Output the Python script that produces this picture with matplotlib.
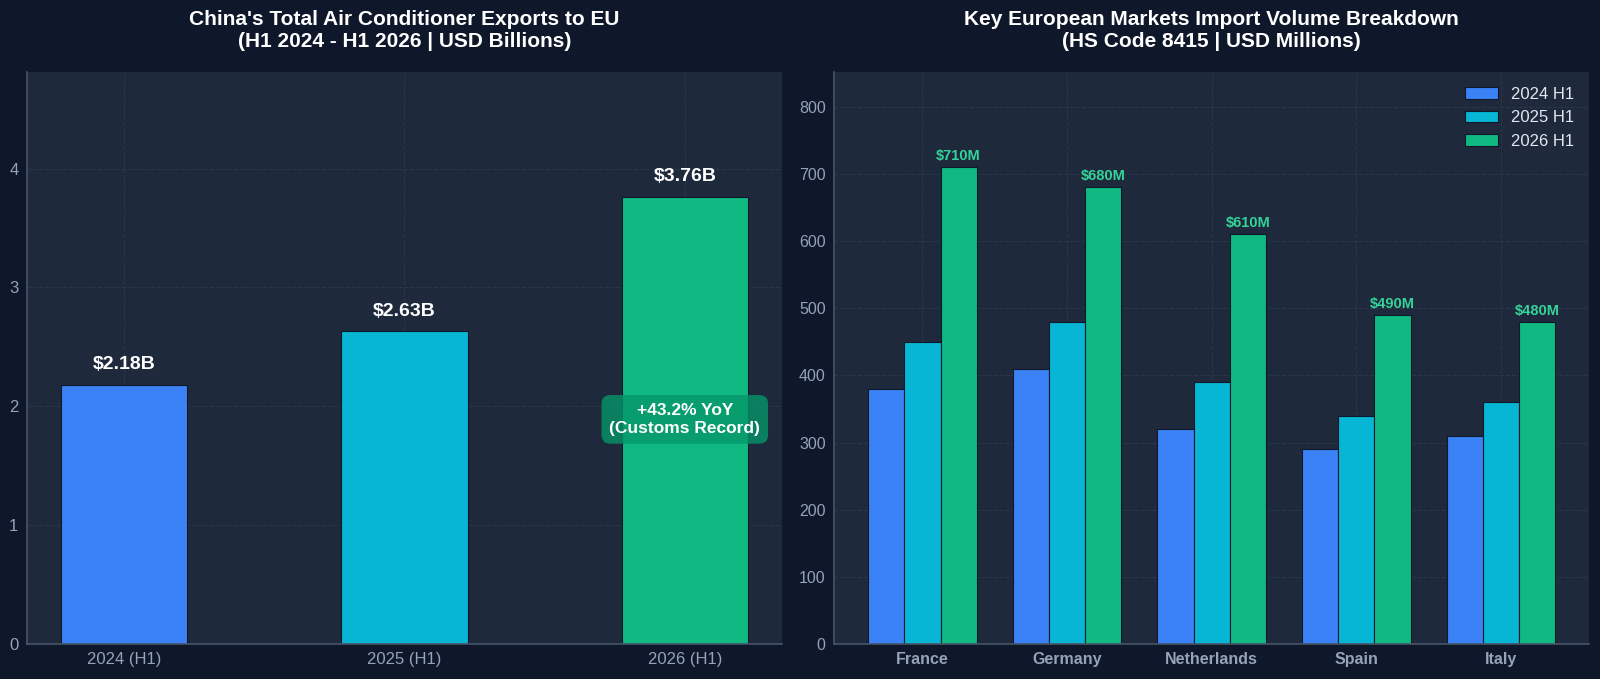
import matplotlib
matplotlib.use("Agg")
import matplotlib.pyplot as plt
import numpy as np

plt.rcParams['font.family'] = ['Liberation Sans', 'DejaVu Sans']

# left chart data
periods = ['2024 (H1)', '2025 (H1)', '2026 (H1)']
total_exports = [2.18, 2.63, 3.76]
total_labels = ['$2.18B', '$2.63B', '$3.76B']

# right chart data
countries = ['France', 'Germany', 'Netherlands', 'Spain', 'Italy']
vals_2024 = [380, 410, 320, 290, 310]
vals_2025 = [450, 480, 390, 340, 360]
vals_2026 = [710, 680, 610, 490, 480]
series_names = ['2024 H1', '2025 H1', '2026 H1']

bg = '#0f172a'
panel = '#1e293b'
colors = ['#3b82f6', '#06b6d4', '#10b981']
tick_col = '#94a3b8'
spine_col = '#475569'

fig = plt.figure(figsize=(16, 6.79), dpi=100, facecolor=bg)
ax1 = fig.add_axes([0.0167, 0.0515, 0.4722, 0.8425])
ax2 = fig.add_axes([0.5212, 0.0515, 0.4722, 0.8425])

def style(ax):
    ax.set_facecolor(panel)
    for s in ['top', 'right']:
        ax.spines[s].set_visible(False)
    for s in ['left', 'bottom']:
        ax.spines[s].set_color(spine_col)
        ax.spines[s].set_linewidth(1.2)
    ax.tick_params(colors=tick_col, labelsize=12, length=0, pad=6)
    ax.grid(True, color='#334155', linestyle='--', linewidth=0.8, alpha=0.6)
    ax.set_axisbelow(True)

# ---- left: totals
style(ax1)
x1 = np.arange(len(periods))
ax1.bar(x1, total_exports, width=0.45, color=colors, edgecolor=bg, linewidth=0.8)
ax1.set_xticks(x1)
ax1.set_xticklabels(periods)
ax1.set_ylim(0, max(total_exports) * 1.28)
ax1.set_yticks([0, 1, 2, 3, 4])
for i, v in enumerate(total_exports):
    ax1.text(i, v + 0.1, total_labels[i], ha='center', va='bottom',
             color='white', fontsize=14, fontweight='bold')
ax1.text(2, 1.89, '+43.2% YoY\n(Customs Record)', ha='center', va='center',
         color='white', fontsize=12.5, fontweight='bold', linespacing=1.25,
         bbox=dict(boxstyle='round,pad=0.45,rounding_size=0.5', facecolor='#059669',
                   edgecolor='none', alpha=0.8))
ax1.set_title("China's Total Air Conditioner Exports to EU\n(H1 2024 - H1 2026 | USD Billions)",
              color='white', fontsize=15, fontweight='bold', pad=18)

# ---- right: country breakdown
style(ax2)
x2 = np.arange(len(countries))
w = 0.25
for k, vals in enumerate([vals_2024, vals_2025, vals_2026]):
    ax2.bar(x2 + (k - 1) * w, vals, width=w, color=colors[k], label=series_names[k],
            edgecolor=bg, linewidth=0.8)
for i, v in enumerate(vals_2026):
    ax2.text(i + w, v + 6, f'${v}M', ha='center', va='bottom',
             color='#34d399', fontsize=10.5, fontweight='bold')
ax2.set_xticks(x2)
ax2.set_xticklabels(countries, fontweight='bold')
ax2.tick_params(axis='y', labelsize=11.5)
ax2.tick_params(axis='x', labelsize=11.5)
ax2.set_ylim(0, max(vals_2026) * 1.2)
ax2.set_yticks(range(0, 801, 100))
leg = ax2.legend(loc='upper right', frameon=False, fontsize=12, handlelength=2.0,
                 labelspacing=0.5)
for t in leg.get_texts():
    t.set_color('#e2e8f0')
ax2.set_title('Key European Markets Import Volume Breakdown\n(HS Code 8415 | USD Millions)',
              color='white', fontsize=15, fontweight='bold', pad=18)

fig.savefig('out.png', dpi=100, facecolor=bg)
